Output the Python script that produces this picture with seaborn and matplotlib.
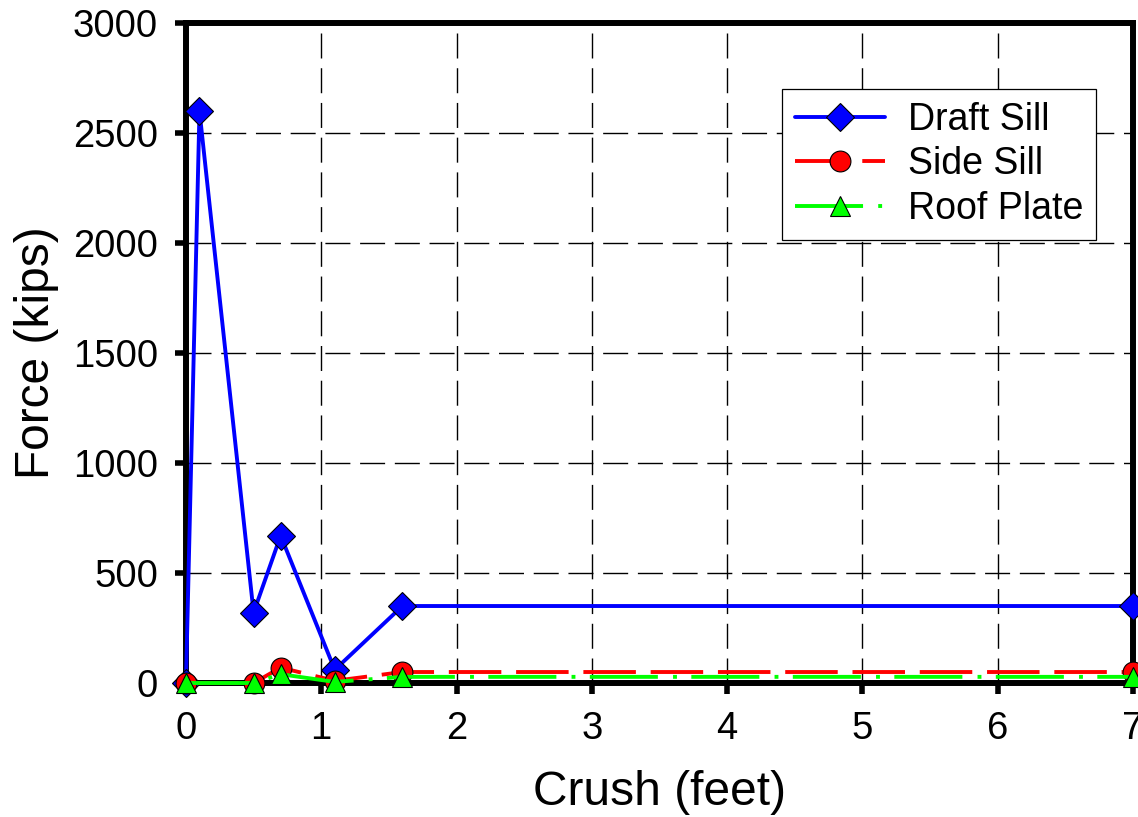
import matplotlib
matplotlib.use("Agg")
import matplotlib.pyplot as plt
import seaborn as sns
import pandas as pd

# Data
crush_ft = [0.0, 0.1, 0.5, 0.7, 1.1, 1.6, 7.0]
draft_sill = [0, 2600, 320, 670, 60, 350, 350]
crush_ft_side = [0.0, 0.5, 0.7, 1.1, 1.6, 7.0]
side_sill = [0, 0, 70, 10, 50, 50]
roof_plate = [0, 0, 40, 5, 28, 28]

series_names = ["Draft Sill", "Side Sill", "Roof Plate"]
x_ticks = [0, 1, 2, 3, 4, 5, 6, 7]
y_ticks = [0, 500, 1000, 1500, 2000, 2500, 3000]

sns.set_theme(style="white", rc={"text.color": "black", "axes.labelcolor": "black",
                                 "xtick.color": "black", "ytick.color": "black"})
plt.rcParams["font.family"] = ["Liberation Sans", "DejaVu Sans"]

fig = plt.figure(figsize=(11.38, 8.17), dpi=100)
ax = fig.add_axes([0.1634, 0.164, 0.8322, 0.8078])

df_draft = pd.DataFrame({"x": crush_ft, "y": draft_sill})
df_side = pd.DataFrame({"x": crush_ft_side, "y": side_sill})
df_roof = pd.DataFrame({"x": crush_ft_side, "y": roof_plate})

common = dict(ax=ax, clip_on=False, markeredgecolor="black",
              markeredgewidth=0.8, linewidth=2.8)
sns.lineplot(data=df_draft, x="x", y="y", color="#0000ff", marker="D",
             markersize=14, linestyle="-", label=series_names[0],
             zorder=3, **common)
sns.lineplot(data=df_side, x="x", y="y", color="#ff0000", marker="o",
             markersize=15, linestyle=(0, (13.5, 3.8)), label=series_names[1],
             zorder=4, **common)
sns.lineplot(data=df_roof, x="x", y="y", color="#00ff00", marker="^",
             markersize=15, linestyle=(0, (17.5, 3.9, 1.0, 3.7)),
             label=series_names[2], zorder=5, **common)

ax.set_xlim(0, 7)
ax.set_ylim(0, 3000)
ax.set_xticks(x_ticks)
ax.set_yticks(y_ticks)
ax.set_xticklabels([str(v) for v in x_ticks])
ax.set_yticklabels([str(v) for v in y_ticks])

ax.grid(True, color="black", linestyle=(0, (18, 7)), linewidth=1.0)
ax.set_axisbelow(True)

for s in ax.spines.values():
    s.set_visible(True)
    s.set_color("black")
    s.set_linewidth(4.3)

ax.tick_params(axis="both", which="major", direction="out", length=8,
               width=4.0, color="black", labelcolor="black", labelsize=27.5,
               pad=12, bottom=True, left=True, top=False, right=False)

ax.set_xlabel("Crush (feet)", fontsize=34.5, labelpad=17, color="black")
ax.set_ylabel("Force (kips)", fontsize=34.5, labelpad=10, color="black")

leg = ax.legend(loc="upper right", bbox_to_anchor=(0.961, 0.900),
                borderaxespad=0, fontsize=27, frameon=True, fancybox=False,
                edgecolor="black", framealpha=1, handlelength=2.4,
                handletextpad=0.6, borderpad=0.35, labelspacing=0.22,
                numpoints=1)
leg.get_frame().set_linewidth(0.9)
for t in leg.get_texts():
    t.set_color("black")

fig.savefig("out.png", dpi=100)
